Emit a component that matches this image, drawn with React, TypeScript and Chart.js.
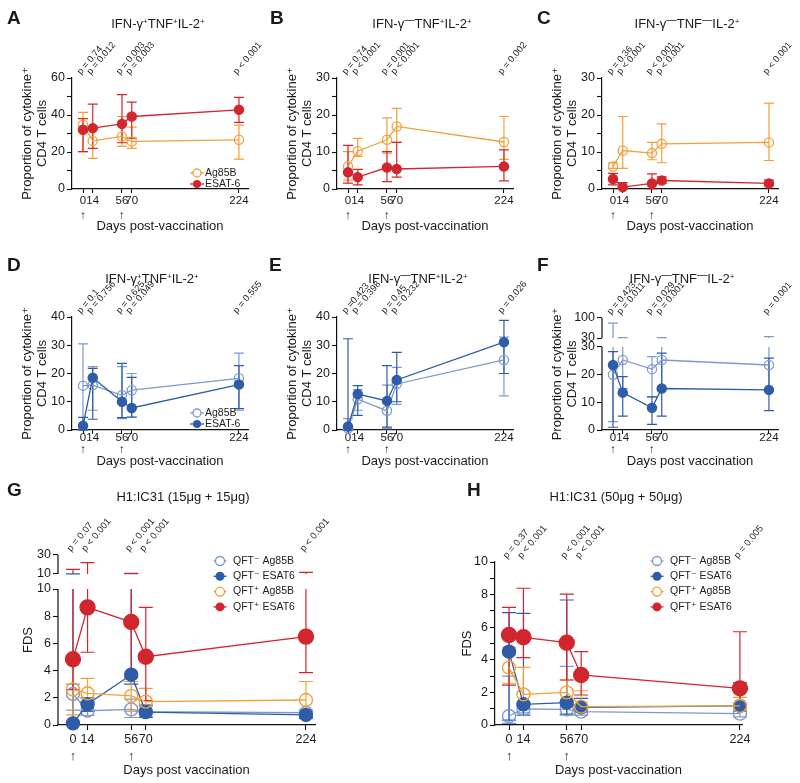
import React, { useEffect, useRef } from 'react';
import { Chart, registerables, LinearScale } from 'chart.js';

Chart.register(...registerables);

const FONT = "'Liberation Sans', Arial, 'DejaVu Sans', sans-serif";
Chart.defaults.font.family = FONT;
Chart.defaults.color = '#1a1a1a';

// ---------------- data ----------------
const DAYS = [0, 14, 56, 70, 224];
const ARROW_DAYS = [0, 56];
const NAMES_AB = ['Ag85B', 'ESAT-6'];
const NAMES_GH = ['QFT⁻ Ag85B', 'QFT⁻ ESAT6', 'QFT⁺ Ag85B', 'QFT⁺ ESAT6'];

// Panel A
const A_AG = [34.7, 26.0, 28.4, 25.7, 26.6];
const A_AG_LO = [20.2, 16.6, 23.0, 22.0, 16.1];
const A_AG_HI = [41.4, 33.0, 39.2, 33.5, 34.5];
const A_ES = [32.0, 32.9, 35.2, 39.2, 42.8];
const A_ES_LO = [20.2, 22.0, 25.0, 27.5, 36.0];
const A_ES_HI = [38.0, 45.9, 51.0, 47.0, 49.5];
const A_P = ['p = 0.74', 'p = 0.012', 'p = 0.003', 'p = 0.003', 'p < 0.001'];

// Panel B
const B_AG = [6.1, 10.2, 13.3, 16.9, 12.7];
const B_AG_LO = [2.4, 8.8, 9.7, 12.6, 8.0];
const B_AG_HI = [10.1, 13.7, 19.2, 21.8, 19.6];
const B_ES = [4.5, 3.2, 5.8, 5.4, 6.1];
const B_ES_LO = [1.6, 1.1, 2.0, 3.2, 2.2];
const B_ES_HI = [11.8, 5.3, 10.1, 12.6, 10.6];
const B_P = ['p = 0.74', 'p < 0.001', 'p = 0.001', 'p < 0.001', 'p = 0.002'];

// Panel C
const C_AG = [6.1, 10.4, 9.7, 12.2, 12.6];
const C_AG_LO = [5.6, 5.6, 7.9, 7.1, 7.7];
const C_AG_HI = [7.1, 19.6, 12.6, 17.6, 23.2];
const C_ES = [2.7, 0.5, 1.5, 2.3, 1.5];
const C_ES_LO = [1.1, 0, 0, 1.5, 0.9];
const C_ES_HI = [4.2, 1.7, 4.1, 3.3, 2.4];
const C_P = ['p = 0.36', 'p < 0.001', 'p < 0.001', 'p < 0.001', 'p < 0.001'];

// Panel D
const D_AG = [15.7, 15.9, 12.3, 14.1, 18.3];
const D_AG_LO = [0, 7.0, 4.0, 4.5, 7.0];
const D_AG_HI = [30.5, 22.4, 22.4, 20.0, 27.2];
const D_ES = [1.5, 18.5, 10.0, 7.8, 16.1];
const D_ES_LO = [0, 3.8, 4.4, 4.6, 7.6];
const D_ES_HI = [4.5, 21.8, 23.6, 18.6, 22.8];
const D_P = ['p = 0.1', 'p = 0.756', 'p = 0.625', 'p = 0.049', 'p = 0.555'];

// Panel E
const E_AG = [0.5, 10.9, 6.8, 16.3, 24.8];
const E_AG_LO = [0, 7.0, 0.5, 9.1, 12.1];
const E_AG_HI = [4.0, 14.3, 15.9, 22.2, 32.9];
const E_ES = [1.2, 12.7, 10.3, 17.7, 31.1];
const E_ES_LO = [0, 5.2, 1.0, 10.0, 20.0];
const E_ES_HI = [32.3, 15.7, 22.8, 27.5, 38.8];
const E_P = ['p =0.423', 'p = 0.398', 'p = 0.45', 'p = 0.232', 'p = 0.026'];

// Panel F
const F_AG = [20.0, 25.3, 22.0, 25.3, 23.5];
const F_AG_LO = [3, 15, 12, 15, 15];
const F_AG_HI = [82, 31, 26.5, 31, 34.5];
const F_ES = [23.5, 13.5, 8.0, 15.0, 14.5];
const F_ES_LO = [1, 5, 2, 5, 7];
const F_ES_HI = [28.3, 19.3, 12, 27.8, 26];
const F_P = ['p = 0.423', 'p = 0.011', 'p = 0.029', 'p = 0.001', 'p = 0.001'];

// Panel G
const G_QN_AG = [2.28, 1.05, 1.15, 0.98, 0.9];
const G_QN_AG_LO = [1.1, 0.7, 0.55, 0.6, 0.5];
const G_QN_AG_HI = [3.0, 1.7, 1.9, 1.5, 1.1];
const G_QN_ES = [0.12, 1.52, 3.7, 0.95, 0.74];
const G_QN_ES_LO = [0, 1.0, 3.0, 0.55, 0.5];
const G_QN_ES_HI = [10.2, 2.0, 10.3, 1.4, 0.95];
const G_QP_AG = [2.62, 2.33, 2.14, 1.72, 1.84];
const G_QP_AG_LO = [0.74, 1.5, 1.0, 1.0, 1.0];
const G_QP_AG_HI = [4.8, 3.43, 3.2, 2.7, 3.2];
const G_QP_ES = [4.83, 8.65, 7.57, 5.02, 6.5];
const G_QP_ES_LO = [2.6, 5.35, 3.5, 1.8, 3.85];
const G_QP_ES_HI = [14.9, 21.9, 10.7, 8.65, 11.8];
const G_P = ['p = 0.07', 'p < 0.001', 'p < 0.001', 'p < 0.001', 'p < 0.001'];

// Panel H
const H_QN_AG = [0.55, 0.98, 0.96, 0.82, 0.7];
const H_QN_AG_LO = [0.1, 0.75, 0.6, 0.6, 0.5];
const H_QN_AG_HI = [3.0, 1.2, 3.6, 1.2, 1.0];
const H_QN_ES = [4.5, 1.27, 1.37, 1.08, 1.17];
const H_QN_ES_LO = [0.3, 0.6, 0.67, 0.8, 0.85];
const H_QN_ES_HI = [6.9, 6.85, 7.67, 1.63, 2.6];
const H_QP_AG = [3.52, 1.88, 2.0, 1.13, 1.17];
const H_QP_AG_LO = [2.56, 1.23, 1.43, 0.8, 0.9];
const H_QP_AG_HI = [4.77, 3.54, 2.76, 2.1, 1.7];
const H_QP_ES = [5.52, 5.38, 5.05, 3.07, 2.25];
const H_QP_ES_LO = [2.45, 4.13, 2.76, 1.84, 1.2];
const H_QP_ES_HI = [7.22, 8.39, 8.03, 4.5, 5.72];
const H_P = ['p = 0.37', 'p < 0.001', 'p < 0.001', 'p < 0.001', 'p = 0.005'];

// y-axis ticks
const Y_A = [0, 20, 40, 60];
const Y_A_MINOR = [10, 30, 50];
const Y_BC = [0, 10, 20, 30];
const Y_BC_MINOR = [5, 15, 25];
const Y_DE = [0, 10, 20, 30, 40];
const Y_F = [0, 10, 20, 30];
const Y_F_UPPER = [30, 100];
const Y_G = [0, 2, 4, 6, 8, 10];
const Y_G_UPPER = [10, 30];
const Y_H = [0, 2, 4, 6, 8, 10];
const Y_H_MINOR = [1, 3, 5, 7, 9];

// ---------------- styles ----------------
const ORANGE = '#F3A03A';
const RED = '#D2262E';
const BLUE_D = '#2F5CA8';
const BLUE_L = '#7F98CC';

// ---------------- broken y scale ----------------
class BrokenScale extends (LinearScale as any) {
  static id = 'broken';
  static defaults = (LinearScale as any).defaults;
  brk() {
    return ((this as any).chart.canvas as any).__brk || {};
  }
  fwd(v: number) {
    const o = this.brk();
    if (o.breakAt == null || v <= o.breakAt) return v;
    return o.breakAt + o.gap + (v - o.breakAt) * o.factor;
  }
  pixDisplay(d: number) {
    return super.getPixelForValue(d);
  }
  getPixelForValue(v: any) {
    if (v == null) return NaN;
    return super.getPixelForValue(this.fwd(v));
  }
  getPixelForTick(i: number) {
    const t = (this as any).ticks[i];
    return t ? super.getPixelForValue(t.value) : null;
  }
  buildTicks() {
    const o = this.brk();
    const out: any[] = [];
    (o.major || []).forEach((v: number) => out.push({ value: v, lbl: String(v) }));
    (o.minor || []).forEach((v: number) => out.push({ value: v, lbl: '' }));
    (o.upper || []).forEach((v: number) =>
      out.push({ value: o.breakAt + o.gap + (v - o.breakAt) * o.factor, lbl: String(v) })
    );
    out.sort((a, b) => a.value - b.value);
    return out;
  }
}
Chart.register(BrokenScale as any);

// ---------------- plugins ----------------
const errorBars = {
  id: 'errorBars',
  beforeDatasetsDraw(chart: any) {
    const ctx = chart.ctx;
    const xs = chart.scales.x;
    const ys = chart.scales.y;
    const brk = chart.canvas.__brk || {};
    if (brk.breakAt != null) {
      const x = chart.chartArea.left;
      ctx.save();
      ctx.strokeStyle = '#111';
      ctx.lineWidth = 1.2;
      ctx.beginPath();
      ctx.moveTo(x, ys.getPixelForValue(0));
      ctx.lineTo(x, ys.getPixelForValue(brk.breakAt));
      ctx.moveTo(x, ys.pixDisplay(brk.breakAt + brk.gap));
      ctx.lineTo(x, ys.pixDisplay(ys.max));
      ctx.stroke();
      ctx.restore();
    }
    chart.data.datasets.forEach((ds: any) => {
      if (!ds.errLo) return;
      ctx.save();
      ctx.strokeStyle = ds.errColor;
      ctx.lineWidth = ds.errWidth;
      ds.data.forEach((p: any, i: number) => {
        const lo = ds.errLo[i];
        const hi = ds.errHi[i];
        const x = xs.getPixelForValue(p.x);
        const yl = ys.getPixelForValue(lo);
        const yh = ys.getPixelForValue(hi);
        ctx.beginPath();
        if (brk.breakAt != null && hi > brk.breakAt && lo < brk.breakAt) {
          ctx.moveTo(x, yl);
          ctx.lineTo(x, ys.getPixelForValue(brk.breakAt));
          ctx.moveTo(x, ys.pixDisplay(brk.breakAt + brk.gap));
          ctx.lineTo(x, yh);
        } else {
          ctx.moveTo(x, yl);
          ctx.lineTo(x, yh);
        }
        const c = ds.capW;
        ctx.moveTo(x - c, yl);
        ctx.lineTo(x + c, yl);
        ctx.moveTo(x - c, yh);
        ctx.lineTo(x + c, yh);
        ctx.stroke();
      });
      ctx.restore();
    });
  },
};
Chart.register(errorBars as any);

function pvalPlugin(labels: string[], cfg: any) {
  return {
    id: 'pvals',
    afterDraw(chart: any) {
      const ctx = chart.ctx;
      const xs = chart.scales.x;
      const top = chart.chartArea.top;
      ctx.save();
      ctx.font = `${cfg.size}px ${FONT}`;
      ctx.fillStyle = '#222';
      ctx.textAlign = 'left';
      ctx.textBaseline = 'alphabetic';
      labels.forEach((t, i) => {
        const x = xs.getPixelForValue(DAYS[i]);
        ctx.save();
        ctx.translate(x + cfg.dx, top + cfg.dy);
        ctx.rotate((-cfg.angle * Math.PI) / 180);
        ctx.fillText(t, 0, 0);
        ctx.restore();
      });
      ctx.restore();
    },
  };
}

function legendPlugin(L: any) {
  return {
    id: 'insideLegend',
    afterDraw(chart: any) {
      if (!L) return;
      const ctx = chart.ctx;
      const { left, top } = chart.chartArea;
      ctx.save();
      ctx.font = `${L.size}px ${FONT}`;
      ctx.textBaseline = 'middle';
      ctx.textAlign = 'left';
      chart.data.datasets.forEach((ds: any, i: number) => {
        const x = left + L.dx;
        const y = top + L.dy + i * L.spacing;
        ctx.strokeStyle = ds.borderColor;
        ctx.lineWidth = 1.3;
        ctx.beginPath();
        ctx.moveTo(x - L.half, y);
        ctx.lineTo(x + L.half, y);
        ctx.stroke();
        ctx.beginPath();
        ctx.arc(x, y, L.r, 0, Math.PI * 2);
        if (ds.filled) {
          ctx.fillStyle = ds.borderColor;
          ctx.fill();
        } else {
          ctx.fillStyle = '#fff';
          ctx.fill();
          ctx.stroke();
        }
        ctx.fillStyle = '#222';
        ctx.fillText(ds.label, x + L.textDx, y);
      });
      ctx.restore();
    },
  };
}

// ---------------- config builders ----------------
function series(label: string, mean: number[], lo: number[], hi: number[], st: any) {
  return {
    label,
    data: DAYS.map((d, i) => ({ x: d, y: mean[i] })),
    errLo: lo,
    errHi: hi,
    borderColor: st.color,
    backgroundColor: st.color,
    borderWidth: st.lw,
    pointRadius: st.r,
    pointBorderWidth: st.pbw,
    pointBorderColor: st.color,
    pointBackgroundColor: st.filled ? st.color : 'rgba(255,255,255,0)',
    filled: st.filled,
    errColor: st.errColor || st.color,
    errWidth: 1.2,
    capW: st.cap,
    order: st.order,
    tension: 0,
    fill: false,
    clip: false,
  };
}

const ST_SMALL = (color: string, filled: boolean, order: number) => ({
  color, filled, order, r: 4.6, lw: 1.3, pbw: 1.3, cap: 5,
});
const ST_BIG = (color: string, filled: boolean, order: number, r: number) => ({
  color, filled, order, r, lw: 1.3, pbw: 1.4, cap: 7,
});

function makeConfig(p: any) {
  const pad = {
    left: p.area.l - p.canvas.x - p.yW,
    top: p.area.t - p.canvas.y,
    right: p.canvas.x + p.canvas.w - p.area.r,
    bottom: p.canvas.y + p.canvas.h - p.area.b - p.xH,
  };
  const broken = p.brk.breakAt != null;
  return {
    type: 'line',
    data: { datasets: p.datasets },
    options: {
      animation: false,
      responsive: false,
      events: [],
      layout: { padding: pad },
      plugins: { legend: { display: false }, tooltip: { enabled: false }, title: { display: false } },
      scales: {
        x: {
          type: 'linear',
          min: p.xMin,
          max: p.xMax,
          afterBuildTicks: (s: any) => {
            s.ticks = DAYS.map((v) => ({ value: v }));
          },
          afterFit: (s: any) => {
            s.height = p.xH;
          },
          grid: {
            display: true,
            drawOnChartArea: false,
            drawTicks: true,
            tickLength: p.xt.tl,
            tickColor: '#111',
            tickWidth: 1.1,
          },
          border: { display: true, color: '#111', width: 1.2 },
          ticks: {
            autoSkip: false,
            maxRotation: 0,
            minRotation: 0,
            color: '#1a1a1a',
            padding: p.xt.pad,
            font: { size: p.xt.size, lineHeight: p.xt.lh },
            callback: (v: number) => (ARROW_DAYS.includes(v) ? [String(v), '↑'] : String(v)),
          },
          title: {
            display: true,
            text: p.xTitle,
            color: '#1a1a1a',
            font: { size: 13, lineHeight: 1.2 },
            padding: { top: 0, bottom: 0 },
          },
        },
        y: {
          type: 'broken',
          min: 0,
          max: p.yMax,
          afterFit: (s: any) => {
            s.width = p.yW;
          },
          grid: {
            display: true,
            drawOnChartArea: false,
            drawTicks: true,
            tickLength: 5,
            tickColor: '#111',
            tickWidth: 1.1,
          },
          border: { display: !broken, color: '#111', width: 1.2 },
          ticks: {
            autoSkip: false,
            color: '#1a1a1a',
            padding: 2,
            font: { size: 12.5 },
            callback: (v: number, i: number, ticks: any[]) => ticks[i].lbl,
          },
          title: {
            display: true,
            text: p.yTitle,
            color: '#1a1a1a',
            font: { size: 13, lineHeight: 1.15 },
            padding: { top: p.yTitlePad, bottom: 0 },
          },
        },
      },
    },
    plugins: [pvalPlugin(p.pvals, p.pcfg), legendPlugin(p.legend)],
  };
}

// ---------------- panels ----------------
const YT = ['Proportion of cytokine⁺', 'CD4 T cells'];
const XT_TOP = { tl: 4, pad: 0, size: 11.5, lh: 1.3 };
const XT_MID = { tl: 4, pad: -2, size: 11.5, lh: 1.04 };
const XT_BOT = { tl: 5, pad: 1.5, size: 12.5, lh: 1.36 };
const P_SMALL = { size: 9.3, dx: -2, dy: -3, angle: 50 };
const P_BIG = { size: 9.5, dx: -2, dy: -3, angle: 50 };
const LEG_AB = { dx: 125, dy: 95, spacing: 11, r: 4, half: 7, textDx: 8, size: 10.5 };
const LEG_D = { dx: 125, dy: 96, spacing: 11, r: 4, half: 7, textDx: 8, size: 10.5 };

function abSets(ag: number[], agLo: number[], agHi: number[], es: number[], esLo: number[], esHi: number[]) {
  return [
    series(NAMES_AB[0], ag, agLo, agHi, ST_SMALL(ORANGE, false, 2)),
    series(NAMES_AB[1], es, esLo, esHi, ST_SMALL(RED, true, 1)),
  ];
}
function defSets(ag: number[], agLo: number[], agHi: number[], es: number[], esLo: number[], esHi: number[]) {
  return [
    series(NAMES_AB[0], ag, agLo, agHi, ST_SMALL(BLUE_L, false, 2)),
    series(NAMES_AB[1], es, esLo, esHi, ST_SMALL(BLUE_D, true, 1)),
  ];
}

const PANELS: any[] = [
  {
    key: 'A', canvas: { x: 0, y: 0, w: 285, h: 240 }, area: { l: 72, r: 248, t: 78, b: 189 },
    yW: 72, xH: 44.8, xMin: -15.8, xMax: 237, yMax: 60,
    brk: { major: Y_A, minor: Y_A_MINOR },
    yTitle: YT, yTitlePad: 19.5, xTitle: 'Days post-vaccination', xt: XT_TOP,
    datasets: abSets(A_AG, A_AG_LO, A_AG_HI, A_ES, A_ES_LO, A_ES_HI),
    pvals: A_P, pcfg: P_SMALL, legend: LEG_AB,
  },
  {
    key: 'B', canvas: { x: 265, y: 0, w: 285, h: 240 }, area: { l: 337, r: 513, t: 78, b: 189 },
    yW: 72, xH: 44.8, xMin: -15.8, xMax: 237, yMax: 30,
    brk: { major: Y_BC, minor: Y_BC_MINOR },
    yTitle: YT, yTitlePad: 19.5, xTitle: 'Days post-vaccination', xt: XT_TOP,
    datasets: abSets(B_AG, B_AG_LO, B_AG_HI, B_ES, B_ES_LO, B_ES_HI),
    pvals: B_P, pcfg: P_SMALL, legend: null,
  },
  {
    key: 'C', canvas: { x: 530, y: 0, w: 270, h: 240 }, area: { l: 602, r: 778, t: 78, b: 189 },
    yW: 72, xH: 44.8, xMin: -15.8, xMax: 237, yMax: 30,
    brk: { major: Y_BC, minor: Y_BC_MINOR },
    yTitle: YT, yTitlePad: 19.5, xTitle: 'Days post-vaccination', xt: XT_TOP,
    datasets: abSets(C_AG, C_AG_LO, C_AG_HI, C_ES, C_ES_LO, C_ES_HI),
    pvals: C_P, pcfg: P_SMALL, legend: null,
  },
  {
    key: 'D', canvas: { x: 0, y: 240, w: 285, h: 235 }, area: { l: 72, r: 248, t: 317, b: 430 },
    yW: 72, xH: 38.8, xMin: -15.8, xMax: 237, yMax: 40,
    brk: { major: Y_DE, minor: [] },
    yTitle: YT, yTitlePad: 19.5, xTitle: 'Days post-vaccination', xt: XT_MID,
    datasets: defSets(D_AG, D_AG_LO, D_AG_HI, D_ES, D_ES_LO, D_ES_HI),
    pvals: D_P, pcfg: P_SMALL, legend: LEG_D,
  },
  {
    key: 'E', canvas: { x: 265, y: 240, w: 285, h: 235 }, area: { l: 337, r: 513, t: 317, b: 430 },
    yW: 72, xH: 38.8, xMin: -15.8, xMax: 237, yMax: 40,
    brk: { major: Y_DE, minor: [] },
    yTitle: YT, yTitlePad: 19.5, xTitle: 'Days post-vaccination', xt: XT_MID,
    datasets: defSets(E_AG, E_AG_LO, E_AG_HI, E_ES, E_ES_LO, E_ES_HI),
    pvals: E_P, pcfg: P_SMALL, legend: null,
  },
  {
    key: 'F', canvas: { x: 530, y: 240, w: 270, h: 235 }, area: { l: 602, r: 778, t: 318, b: 430 },
    yW: 72, xH: 38.8, xMin: -15.8, xMax: 237, yMax: 40.48,
    brk: { major: Y_F, minor: [], upper: Y_F_UPPER, breakAt: 30, gap: 3.25, factor: 0.1033 },
    yTitle: YT, yTitlePad: 19.5, xTitle: 'Days post vaccination', xt: XT_MID,
    datasets: defSets(F_AG, F_AG_LO, F_AG_HI, F_ES, F_ES_LO, F_ES_HI),
    pvals: F_P, pcfg: P_SMALL, legend: null,
  },
  {
    key: 'G', canvas: { x: 0, y: 470, w: 400, h: 313 }, area: { l: 58, r: 315, t: 555, b: 725 },
    yW: 58, xH: 52.8, xMin: -14.4, xMax: 232.7, yMax: 12.5,
    brk: { major: Y_G, minor: [], upper: Y_G_UPPER, breakAt: 10, gap: 1.103, factor: 0.0699 },
    yTitle: 'FDS', yTitlePad: 20.5, xTitle: 'Days post vaccination', xt: XT_BOT,
    datasets: [
      series(NAMES_GH[0], G_QN_AG, G_QN_AG_LO, G_QN_AG_HI, ST_BIG(BLUE_L, false, 4, 6.5)),
      series(NAMES_GH[1], G_QN_ES, G_QN_ES_LO, G_QN_ES_HI, ST_BIG(BLUE_D, true, 3, 6.5)),
      series(NAMES_GH[2], G_QP_AG, G_QP_AG_LO, G_QP_AG_HI, ST_BIG(ORANGE, false, 2, 6.5)),
      series(NAMES_GH[3], G_QP_ES, G_QP_ES_LO, G_QP_ES_HI, ST_BIG(RED, true, 1, 7.5)),
    ],
    pvals: G_P, pcfg: P_BIG,
    legend: { dx: 162, dy: 6, spacing: 15.3, r: 4.5, half: 6.5, textDx: 13, size: 10.5 },
  },
  {
    key: 'H', canvas: { x: 400, y: 470, w: 400, h: 313 }, area: { l: 495, r: 742, t: 562, b: 725 },
    yW: 60, xH: 52.8, xMin: -13.6, xMax: 226, yMax: 10,
    brk: { major: Y_H, minor: Y_H_MINOR },
    yTitle: 'FDS', yTitlePad: 24.5, xTitle: 'Days post-vaccination', xt: XT_BOT,
    datasets: [
      series(NAMES_GH[0], H_QN_AG, H_QN_AG_LO, H_QN_AG_HI, ST_BIG(BLUE_L, false, 4, 6.5)),
      series(NAMES_GH[1], H_QN_ES, H_QN_ES_LO, H_QN_ES_HI, ST_BIG(BLUE_D, true, 3, 6.5)),
      series(NAMES_GH[2], H_QP_AG, H_QP_AG_LO, H_QP_AG_HI, ST_BIG(ORANGE, false, 2, 6.5)),
      series(NAMES_GH[3], H_QP_ES, H_QP_ES_LO, H_QP_ES_HI, ST_BIG(RED, true, 1, 7.5)),
    ],
    pvals: H_P, pcfg: P_BIG,
    legend: { dx: 162, dy: -1, spacing: 15.3, r: 4.5, half: 6.5, textDx: 13, size: 10.5 },
  },
];

// titles: [text, superscript] parts
const TITLES: any[] = [
  { x: 158, y: 23, parts: [['IFN-γ', '+'], ['TNF', '+'], ['IL-2', '+']] },
  { x: 422, y: 23, parts: [['IFN-γ', '—'], ['TNF', '+'], ['IL-2', '+']] },
  { x: 687, y: 23, parts: [['IFN-γ', '—'], ['TNF', '—'], ['IL-2', '+']] },
  { x: 152, y: 278, parts: [['IFN-γ', '+'], ['TNF', '+'], ['IL-2', '+']] },
  { x: 418, y: 278, parts: [['IFN-γ', '—'], ['TNF', '+'], ['IL-2', '+']] },
  { x: 682, y: 278, parts: [['IFN-γ', '—'], ['TNF', '—'], ['IL-2', '+']] },
  { x: 183, y: 496, parts: [['H1:IC31 (15μg + 15μg)', '']] },
  { x: 616, y: 496, parts: [['H1:IC31 (50μg + 50μg)', '']] },
];
const LETTERS: any[] = [
  { t: 'A', x: 7, y: 10 }, { t: 'B', x: 270, y: 10 }, { t: 'C', x: 537, y: 10 },
  { t: 'D', x: 7, y: 257 }, { t: 'E', x: 269, y: 257 }, { t: 'F', x: 537, y: 257 },
  { t: 'G', x: 7, y: 482 }, { t: 'H', x: 467, y: 482 },
];

function Panel({ p }: { p: any }) {
  const ref = useRef<HTMLCanvasElement>(null);
  useEffect(() => {
    const canvas = ref.current as any;
    canvas.__brk = p.brk;
    const chart = new Chart(canvas, makeConfig(p) as any);
    return () => chart.destroy();
  }, []);
  return (
    <canvas
      ref={ref}
      width={p.canvas.w}
      height={p.canvas.h}
      style={{ position: 'absolute', left: p.canvas.x, top: p.canvas.y, width: p.canvas.w, height: p.canvas.h }}
    />
  );
}

export default function App() {
  return (
    <div
      style={{
        position: 'absolute', left: 0, top: 0, width: 800, height: 783,
        background: '#fff', overflow: 'hidden', fontFamily: FONT, color: '#1a1a1a',
      }}
    >
      {PANELS.map((p) => (
        <Panel key={p.key} p={p} />
      ))}
      {TITLES.map((t, i) => (
        <div
          key={'t' + i}
          style={{
            position: 'absolute', left: t.x, top: t.y - 6.4, transform: 'translateX(-50%)',
            whiteSpace: 'nowrap', fontSize: 13, lineHeight: 1,
          }}
        >
          {t.parts.map((pt: any, j: number) => (
            <span key={j}>
              {pt[0]}
              {pt[1] ? (
                <sup style={{ fontSize: pt[1] === '—' ? '0.8em' : '0.62em', verticalAlign: '0.45em', lineHeight: 0 }}>
                  {pt[1]}
                </sup>
              ) : null}
            </span>
          ))}
        </div>
      ))}
      {LETTERS.map((l) => (
        <div
          key={l.t}
          style={{
            position: 'absolute', left: l.x, top: l.y - 2.5, fontSize: 19, fontWeight: 'bold', lineHeight: 1,
          }}
        >
          {l.t}
        </div>
      ))}
    </div>
  );
}
